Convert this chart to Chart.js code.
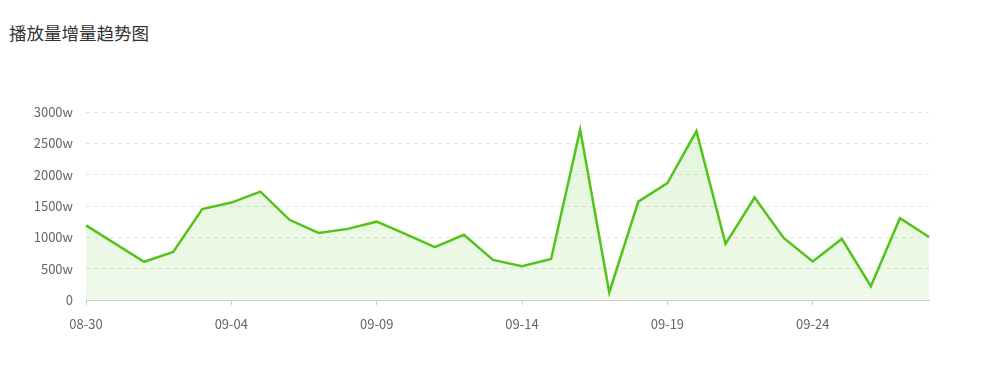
<!DOCTYPE html>
<html>
<head>
<meta charset="utf-8">
<script src="https://cdn.jsdelivr.net/npm/chart.js@4"></script>
<style>
    html, body { margin: 0; padding: 0; background: #fff; }
    #wrap { position: relative; width: 1000px; height: 379px; }
    #title {
        position: absolute; left: 9px; top: 20px;
        font-family: "Noto Sans CJK SC", sans-serif; font-size: 17.5px; color: #333;
    }
    canvas { position: absolute; left: 0; top: 0; }
</style>
</head>
<body>
<div id="wrap">
    <div id="title">播放量增量趋势图</div>
    <canvas id="playChart" width="1000" height="379"></canvas>
</div>
<script>
// Chart data (in units of 万)
const dates = ['08-30', '08-31', '09-01', '09-02', '09-03', '09-04', '09-05', '09-06', '09-07', '09-08',
    '09-09', '09-10', '09-11', '09-12', '09-13', '09-14', '09-15', '09-16', '09-17', '09-18',
    '09-19', '09-20', '09-21', '09-22', '09-23', '09-24', '09-25', '09-26', '09-27', '09-28'];
const playIncrease = [1190, 900, 610, 765, 1450, 1555, 1730, 1280, 1070, 1135,
    1250, 1050, 845, 1040, 640, 540, 655, 2720, 120, 1570,
    1865, 2695, 895, 1635, 990, 615, 975, 220, 1305, 1005];
const yTicks = [0, 500, 1000, 1500, 2000, 2500, 3000];

document.addEventListener('DOMContentLoaded', function() {
    const ctx = document.getElementById('playChart').getContext('2d');
    const tickFont = { family: '"Noto Sans CJK SC", sans-serif', size: 13 };

    new Chart(ctx, {
        type: 'line',
        data: {
            labels: dates,
            datasets: [{
                label: '播放量增量',
                data: playIncrease,
                borderColor: '#52c41a',
                borderWidth: 2.5,
                pointRadius: 0,
                tension: 0,
                fill: 'origin',
                backgroundColor: function(context) {
                    const area = context.chart.chartArea;
                    if (!area) return 'rgba(82,196,26,0.1)';
                    const g = context.chart.ctx.createLinearGradient(0, area.top, 0, area.bottom);
                    g.addColorStop(0, 'rgba(82,196,26,0.16)');
                    g.addColorStop(1, 'rgba(82,196,26,0.09)');
                    return g;
                }
            }]
        },
        options: {
            responsive: false,
            animation: false,
            layout: { padding: { top: 112, right: 71, left: 0, bottom: 0 } },
            plugins: {
                legend: { display: false },
                tooltip: { enabled: false }
            },
            scales: {
                x: {
                    offset: false,
                    afterFit: s => { s.height = 79; },
                    border: { color: '#cccccc', width: 1 },
                    grid: { drawOnChartArea: false, tickLength: 5, color: '#cccccc' },
                    ticks: {
                        autoSkip: false,
                        maxRotation: 0,
                        padding: 11,
                        color: '#666',
                        font: tickFont,
                        callback: function(value, index) {
                            return index % 5 === 0 ? dates[index] : null;
                        }
                    }
                },
                y: {
                    min: 0,
                    max: 3000,
                    afterFit: s => { s.width = 86; },
                    afterBuildTicks: s => { s.ticks = yTicks.map(v => ({ value: v })); },
                    // dashed horizontal grid lines
                    border: { display: false, dash: [4, 4] },
                    grid: { color: '#e3e3e3', drawTicks: false },
                    ticks: {
                        padding: 13,
                        color: '#666',
                        font: tickFont,
                        callback: v => v === 0 ? '0' : v + 'w'
                    }
                }
            }
        }
    });
});
</script>
</body>
</html>
